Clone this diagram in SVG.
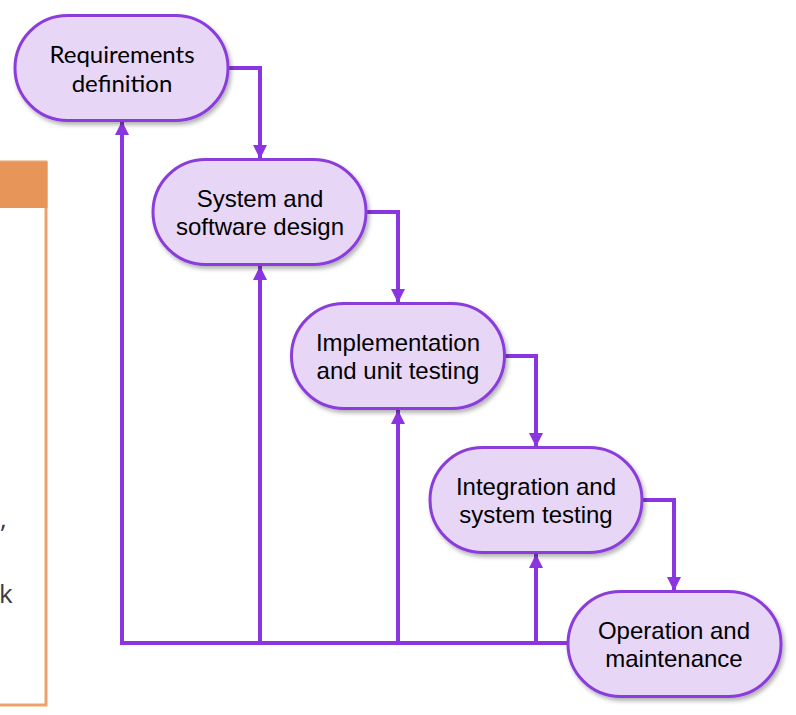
<svg xmlns="http://www.w3.org/2000/svg" width="796" height="715" viewBox="0 0 796 715">
<defs>
<style>
.node rect{fill:#E8D6F7;stroke:#8B3CDC;stroke-width:3;filter:url(#sh)}
.node text{font-family:"Liberation Sans",Arial,sans-serif;font-size:24px;fill:#000;text-anchor:middle}
.node text.lato{font-family:Lato,"Liberation Sans",sans-serif;font-size:24px}
.conn path{fill:none;stroke:#8B35E0;stroke-width:4}
.frag{font-family:"Open Sans","Liberation Sans",sans-serif;font-size:26px;fill:#3a3a46}
</style>
<filter id="sh" x="-10%" y="-10%" width="125%" height="130%">
<feDropShadow dx="2" dy="3" stdDeviation="2" flood-color="#000" flood-opacity="0.3"/>
</filter>
<marker id="ah" viewBox="0 0 14 14" refX="14" refY="7" markerWidth="14" markerHeight="14" markerUnits="userSpaceOnUse" orient="auto">
<path d="M0,0 L14,7 L0,14 z" fill="#8B35E0"/>
</marker>
</defs>
<rect width="796" height="715" fill="#fff"/>
<g id="side-panel">
<rect x="-10" y="162" width="56" height="543" fill="none" stroke="#EDA26C" stroke-width="3"/>
<rect x="-10" y="162" width="57.5" height="46" fill="#E8955A"/>
<text class="frag" x="0" y="528">,</text>
<text class="frag" x="-1" y="603">k</text>
</g>
<g class="conn" id="connectors">
<path d="M228,68 H260 V159" marker-end="url(#ah)"/>
<path d="M366,212 H398 V303" marker-end="url(#ah)"/>
<path d="M505,356 H536 V447" marker-end="url(#ah)"/>
<path d="M642,500 H674 V591" marker-end="url(#ah)"/>
<path d="M568,643 H122 V121" marker-end="url(#ah)"/>
<path d="M260,643 V266" marker-end="url(#ah)"/>
<path d="M398,643 V410" marker-end="url(#ah)"/>
<path d="M536,643 V554" marker-end="url(#ah)"/>
</g>
<g class="node" id="n1">
<rect x="15" y="15.5" width="213" height="105" rx="52.5"/>
<text class="lato" x="122" y="63">Requirements</text>
<text class="lato" x="122" y="92">definition</text>
</g>
<g class="node" id="n2">
<rect x="153" y="159.5" width="213" height="105" rx="52.5"/>
<text x="260" y="207">System and</text>
<text x="260" y="235">software design</text>
</g>
<g class="node" id="n3">
<rect x="291.5" y="303.5" width="213" height="105" rx="52.5"/>
<text x="398" y="351">Implementation</text>
<text x="398" y="379">and unit testing</text>
</g>
<g class="node" id="n4">
<rect x="430" y="447.5" width="212" height="105" rx="52.5"/>
<text x="536" y="495">Integration and</text>
<text x="536" y="523">system testing</text>
</g>
<g class="node" id="n5">
<rect x="568" y="591.5" width="213" height="105" rx="52.5"/>
<text x="674" y="639">Operation and</text>
<text x="674" y="667">maintenance</text>
</g>
</svg>
